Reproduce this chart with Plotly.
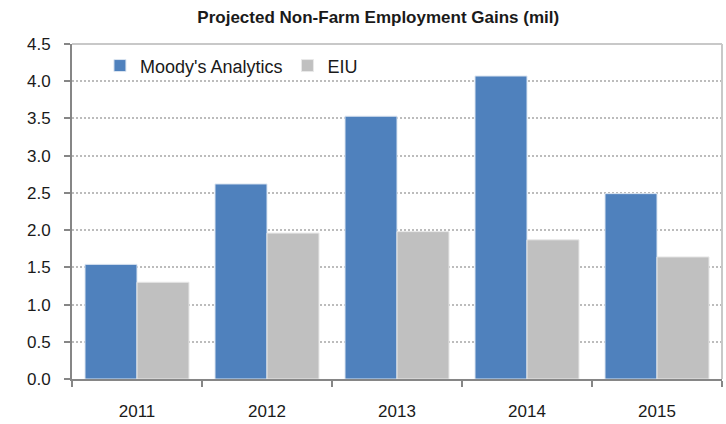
import plotly.graph_objects as go

years = ["2011", "2012", "2013", "2014", "2015"]
moodys = [1.54, 2.62, 3.53, 4.07, 2.49]
eiu = [1.30, 1.96, 1.98, 1.87, 1.64]
y_ticks = [0.0, 0.5, 1.0, 1.5, 2.0, 2.5, 3.0, 3.5, 4.0, 4.5]
y_labels = [f"{v:.1f}" for v in y_ticks]

FONT = "Liberation Sans, Arial, sans-serif"

fig = go.Figure()
fig.add_trace(go.Bar(x=years, y=moodys, name="Moody's Analytics",
                     marker=dict(color="#4F81BD", line=dict(color="#dbe5f1", width=1))))
fig.add_trace(go.Bar(x=years, y=eiu, name="EIU",
                     marker=dict(color="#C0C0C0", line=dict(color="#e8e8e8", width=1))))

fig.update_layout(
    width=726, height=424,
    margin=dict(l=72, r=4, t=44, b=45),
    paper_bgcolor="white", plot_bgcolor="white",
    font=dict(family=FONT, size=17, color="#1a1a1a"),
    title=dict(text="<b>Projected Non-Farm Employment Gains (mil)</b>",
               x=0.521, xanchor="center", y=0.96, yanchor="middle",
               font=dict(family=FONT, size=17, color="#1a1a1a")),
    barmode="group", bargap=0.2, bargroupgap=0,
    showlegend=True,
    legend=dict(orientation="h", x=0.043, y=0.99, xanchor="left", yanchor="top",
                bgcolor="rgba(0,0,0,0)", font=dict(family=FONT, size=18),
                itemwidth=30, traceorder="normal"),
)
fig.update_yaxes(range=[0, 4.5], tickvals=y_ticks, ticktext=y_labels,
                 showgrid=True, gridcolor="#bcbcbc", griddash="2px,2px", gridwidth=1.5,
                 showline=True, linecolor="#868686", linewidth=2,
                 ticks="outside", ticklen=6, tickcolor="#868686", tickwidth=2,
                 ticklabelstandoff=10, zeroline=False, automargin=False,
                 tickfont=dict(family=FONT, size=17))
fig.update_xaxes(showline=True, linecolor="#868686", linewidth=2,
                 ticks="outside", tickson="boundaries", ticklen=6,
                 tickcolor="#868686", tickwidth=2, ticklabelstandoff=16,
                 automargin=False,
                 tickfont=dict(family=FONT, size=17))
# top and right border of plot area
fig.add_shape(type="line", xref="paper", yref="paper", x0=0, x1=1, y0=1, y1=1,
              line=dict(color="#c8c8c8", width=2))
fig.add_shape(type="line", xref="paper", yref="paper", x0=1, x1=1, y0=0, y1=1,
              line=dict(color="#c8c8c8", width=2))

fig.write_html("out.html", config={"displayModeBar": False},
               post_script="document.body.style.margin='0';document.body.style.overflow='hidden';")
